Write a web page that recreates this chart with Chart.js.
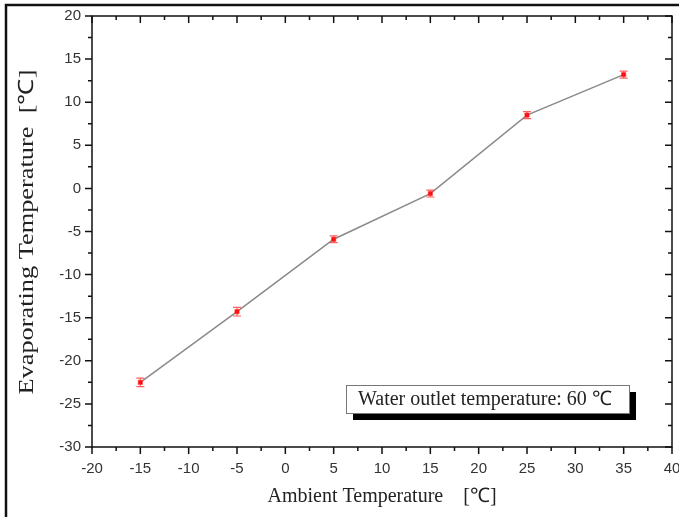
<!DOCTYPE html>
<html>
<head>
<meta charset="utf-8">
<script src="https://cdn.jsdelivr.net/npm/chart.js@4/dist/chart.umd.min.js"></script>
<style>
  html, body { margin: 0; padding: 0; background: #fff; }
  #wrap { width: 679px; height: 517px; position: relative; }
</style>
</head>
<body>
<div id="wrap"><canvas id="chart" width="679" height="517"></canvas></div>
<script>
/* ── Data ── */
const ambientTemps = [-15, -5, 5, 15, 25, 35];
const evapTemps = [-22.5, -14.3, -5.9, -0.6, 8.5, 13.2];
const evapErrors = [0.5, 0.5, 0.4, 0.4, 0.4, 0.4];
const legendLabel = "Water outlet temperature: 60 \u2103";
const yTitle = "Evaporating Temperature  [\u2103]";
const xTitle = "Ambient Temperature    [\u2103]";

const AXIS_FONT = "'Liberation Sans', Arial, sans-serif";
const TITLE_FONT = "'Liberation Serif', 'Times New Roman', serif";

/* ── Frame, ticks, error bars, label box ── */
const decorations = {
  id: "decorations",
  beforeDraw(chart) {
    const c = chart.ctx;
    c.save();
    c.strokeStyle = "#111";
    c.lineWidth = 2.5;
    c.beginPath();
    c.moveTo(6, 517); c.lineTo(6, 5); c.lineTo(679, 5);
    c.stroke();

    // y title, a bit stretched along its length like the original
    c.fillStyle = "#222";
    c.font = "21px " + TITLE_FONT;
    c.textAlign = "center";
    c.textBaseline = "middle";
    const w = c.measureText(yTitle).width;
    c.translate(27, 232);
    c.rotate(-Math.PI / 2);
    c.scale(325 / w, 1);
    c.fillText(yTitle, 0, 0);
    c.restore();
  },
  afterDatasetsDraw(chart) {
    const c = chart.ctx;
    const xs = chart.scales.x, ys = chart.scales.y;
    c.save();
    c.strokeStyle = "rgba(255,40,40,0.75)";
    c.lineWidth = 1.2;
    ambientTemps.forEach((t, i) => {
      const px = xs.getPixelForValue(t);
      const top = ys.getPixelForValue(evapTemps[i] + evapErrors[i]);
      const bot = ys.getPixelForValue(evapTemps[i] - evapErrors[i]);
      c.beginPath();
      c.moveTo(px, top); c.lineTo(px, bot);
      c.moveTo(px - 4, top); c.lineTo(px + 4, top);
      c.moveTo(px - 4, bot); c.lineTo(px + 4, bot);
      c.stroke();
    });
    c.restore();
  },
  afterDraw(chart) {
    const c = chart.ctx;
    const xs = chart.scales.x, ys = chart.scales.y;
    const a = chart.chartArea;
    c.save();
    c.strokeStyle = "#111";
    c.lineWidth = 1.5;
    c.strokeRect(a.left, a.top, a.right - a.left, a.bottom - a.top);

    c.beginPath();
    for (let v = -20; v <= 40; v += 2.5) {
      const px = xs.getPixelForValue(v);
      const len = (v % 5 === 0) ? 7 : 4;
      c.moveTo(px, a.bottom); c.lineTo(px, a.bottom + len);   // bottom, outward
      c.moveTo(px, a.top); c.lineTo(px, a.top + len);         // top, inward
    }
    for (let v = -30; v <= 20; v += 2.5) {
      const py = ys.getPixelForValue(v);
      const len = (v % 5 === 0) ? 7 : 4;
      c.moveTo(a.left, py); c.lineTo(a.left - len, py);       // left, outward
      c.moveTo(a.right, py); c.lineTo(a.right - len, py);     // right, inward
    }
    c.stroke();

    // label box with drop shadow
    const bx = 346, by = 385, bw = 283, bh = 28;
    c.fillStyle = "#000";
    c.fillRect(bx + 7, by + 7, bw, bh);
    c.fillStyle = "#fff";
    c.fillRect(bx, by, bw, bh);
    c.strokeStyle = "#777";
    c.lineWidth = 1;
    c.strokeRect(bx + 0.5, by + 0.5, bw, bh);
    c.fillStyle = "#222";
    c.font = "20px " + TITLE_FONT;
    c.textBaseline = "middle";
    c.fillText(legendLabel, bx + 12, by + bh / 2 + 1, 259);
    c.restore();
  }
};

new Chart(document.getElementById("chart"), {
  type: "line",
  data: {
    datasets: [{
      data: ambientTemps.map((t, i) => ({ x: t, y: evapTemps[i] })),
      borderColor: "#8a8a8a",
      borderWidth: 1.5,
      pointStyle: "rect",
      pointRadius: 3,
      pointBackgroundColor: "#ff0000",
      pointBorderColor: "rgba(255,60,60,0.6)",
      pointBorderWidth: 1,
      tension: 0
    }]
  },
  options: {
    responsive: false,
    animation: false,
    layout: { padding: { top: 16, right: 7, left: 0, bottom: 0 } },
    plugins: { legend: { display: false }, tooltip: { enabled: false } },
    scales: {
      x: {
        type: "linear", min: -20, max: 40,
        afterFit(s) { s.height = 70; s.paddingRight = 0; s.paddingLeft = 0; },
        grid: { display: false, drawTicks: false },
        border: { display: false },
        ticks: { stepSize: 5, padding: 13, color: "#333", font: { family: AXIS_FONT, size: 15 } },
        title: { display: true, text: xTitle, color: "#222",
                 font: { family: TITLE_FONT, size: 20 }, padding: { top: 0, bottom: 8 } }
      },
      y: {
        type: "linear", min: -30, max: 20,
        afterFit(s) { s.width = 92; s.paddingTop = 0; s.paddingBottom = 0; },
        grid: { display: false, drawTicks: false },
        border: { display: false },
        ticks: { stepSize: 5, padding: 11, color: "#333", font: { family: AXIS_FONT, size: 15 } },
        title: { display: false }
      }
    }
  },
  plugins: [decorations]
});
</script>
</body>
</html>
